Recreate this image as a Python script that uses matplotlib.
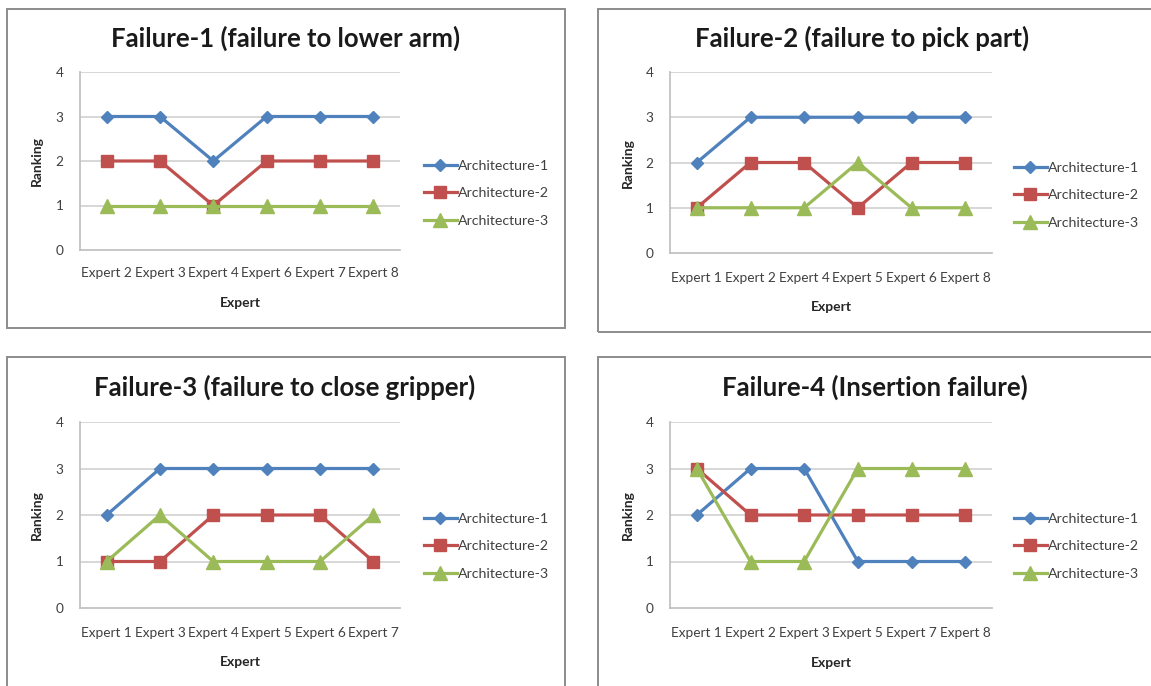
import matplotlib
matplotlib.use("Agg")
import matplotlib.pyplot as plt
from matplotlib.patches import Rectangle
import numpy as np

plt.rcParams['font.family'] = ['Lato', 'DejaVu Sans']

# Rankings per failure mode
titles = [
    "Failure-1 (failure to lower arm)",
    "Failure-2 (failure to pick part)",
    "Failure-3 (failure to close gripper)",
    "Failure-4 (Insertion failure)",
]
experts_f1 = ["Expert 2", "Expert 3", "Expert 4", "Expert 6", "Expert 7", "Expert 8"]
experts_f2 = ["Expert 1", "Expert 2", "Expert 4", "Expert 5", "Expert 6", "Expert 8"]
experts_f3 = ["Expert 1", "Expert 3", "Expert 4", "Expert 5", "Expert 6", "Expert 7"]
experts_f4 = ["Expert 1", "Expert 2", "Expert 3", "Expert 5", "Expert 7", "Expert 8"]

arch1_f1 = [3, 3, 2, 3, 3, 3]
arch2_f1 = [2, 2, 1, 2, 2, 2]
arch3_f1 = [1, 1, 1, 1, 1, 1]

arch1_f2 = [2, 3, 3, 3, 3, 3]
arch2_f2 = [1, 2, 2, 1, 2, 2]
arch3_f2 = [1, 1, 1, 2, 1, 1]

arch1_f3 = [2, 3, 3, 3, 3, 3]
arch2_f3 = [1, 1, 2, 2, 2, 1]
arch3_f3 = [1, 2, 1, 1, 1, 2]

arch1_f4 = [2, 3, 3, 1, 1, 1]
arch2_f4 = [3, 2, 2, 2, 2, 2]
arch3_f4 = [3, 1, 1, 3, 3, 3]

series_names = ["Architecture-1", "Architecture-2", "Architecture-3"]
y_ticks = [0, 1, 2, 3, 4]

panels = [
    (experts_f1, [arch1_f1, arch2_f1, arch3_f1]),
    (experts_f2, [arch1_f2, arch2_f2, arch3_f2]),
    (experts_f3, [arch1_f3, arch2_f3, arch3_f3]),
    (experts_f4, [arch1_f4, arch2_f4, arch3_f4]),
]

colors = ["#4F81BD", "#C0504D", "#9BBB59"]
markers = ["D", "s", "^"]
msizes = [6.5, 8.5, 9.5]

W, H = 1151, 686
fig = plt.figure(figsize=(W / 100, H / 100), dpi=100)
fig.patch.set_facecolor("white")


def fx(x):
    return x / W


def fy(y):
    return 1 - y / H


# layout in pixels: chart box, plot area, title centre, legend anchor, axis-label spots
layout = [
    dict(box=(7, 9, 565, 328), plot=(80, 72, 400, 250), title=(286, 38),
         leg=(424, 160), ylab=(37, 161), xlab=(240, 303), pad=12.5),
    dict(box=(598, 9, 1170, 332), plot=(670, 72, 992, 253), title=(862, 38),
         leg=(1014, 162), ylab=(628, 163), xlab=(831, 307), pad=13.5),
    dict(box=(7, 357, 565, 700), plot=(80, 422, 400, 608), title=(285, 387),
         leg=(424, 513), ylab=(37, 515), xlab=(240, 662), pad=13.5),
    dict(box=(598, 357, 1170, 700), plot=(670, 422, 992, 608), title=(875, 387),
         leg=(1014, 513), ylab=(628, 515), xlab=(831, 663), pad=14),
]

for (cats, series), lay, title in zip(panels, layout, titles):
    bx0, by0, bx1, by1 = lay["box"]
    fig.patches.append(Rectangle((fx(bx0), fy(by1)), fx(bx1 - bx0), (by1 - by0) / H,
                                 transform=fig.transFigure, fill=False,
                                 edgecolor="#8C8C8C", linewidth=1.4, zorder=0))
    px0, py0, px1, py1 = lay["plot"]
    ax = fig.add_axes([fx(px0), fy(py1), fx(px1 - px0), (py1 - py0) / H])
    x = np.arange(len(cats))
    for vals, name, c, m, ms in zip(series, series_names, colors, markers, msizes):
        ax.plot(x, vals, color=c, linewidth=2.3, marker=m, markersize=ms,
                markeredgecolor=c, label=name, clip_on=False, zorder=3)
    ax.set_xlim(-0.5, len(cats) - 0.5)
    ax.set_ylim(0, 4)
    ax.set_yticks(y_ticks)
    ax.set_xticks(x)
    ax.set_xticklabels(cats, fontsize=9.8, color="#404040")
    ax.tick_params(axis="x", length=0, pad=lay["pad"])
    ax.tick_params(axis="y", length=0, labelsize=9.8, labelcolor="#404040", pad=12)
    for yv in y_ticks[1:]:
        ax.axhline(yv, color="#D4D4D4", linewidth=1.3, zorder=1)
    for s in ["top", "right"]:
        ax.spines[s].set_visible(False)
    for s in ["left", "bottom"]:
        ax.spines[s].set_color("#BDBDBD")
        ax.spines[s].set_linewidth(1.2)
    tx, ty = lay["title"]
    fig.text(fx(tx), fy(ty), title, ha="center", va="center",
             fontsize=18.5, fontweight="bold", color="#1A1A1A")
    lx, ly = lay["ylab"]
    fig.text(fx(lx), fy(ly), "Ranking", ha="center", va="center", rotation=90,
             fontsize=10, fontweight="bold", color="#262626")
    xx, xy = lay["xlab"]
    fig.text(fx(xx), fy(xy), "Expert", ha="center", va="center",
             fontsize=10, fontweight="bold", color="#262626")
    gx, gy = lay["leg"]
    leg = ax.legend(loc="upper left", bbox_to_anchor=(fx(gx), fy(gy)),
                    bbox_transform=fig.transFigure, frameon=False, fontsize=10.2,
                    handlelength=2.3, handletextpad=0.1, labelspacing=1.08,
                    borderpad=0, borderaxespad=0)
    for t in leg.get_texts():
        t.set_color("#404040")

fig.savefig("out.png", dpi=100, facecolor="white")
